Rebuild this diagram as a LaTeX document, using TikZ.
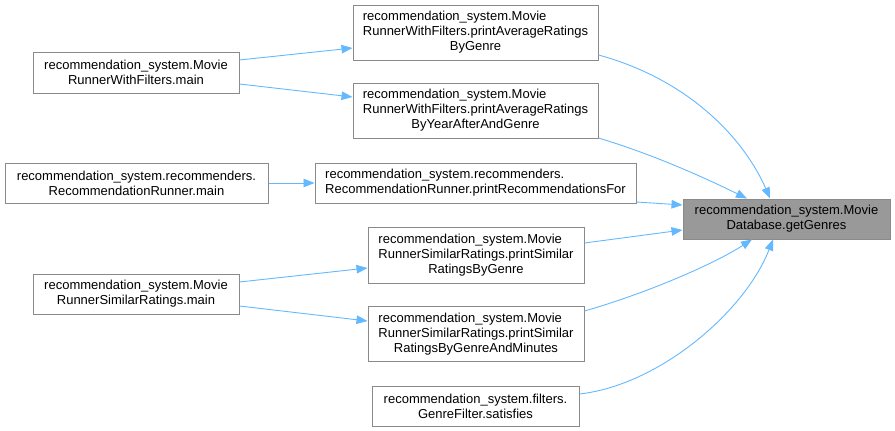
\documentclass[tikz,border=0pt]{standalone}
\usepackage{fontspec}
\setmainfont{Liberation Sans}
\usetikzlibrary{arrows.meta}
\definecolor{edgeblue}{HTML}{63B8FF}
\definecolor{boxline}{HTML}{8A8A8A}
\definecolor{rootfill}{HTML}{999999}
\tikzset{
  fn/.style={draw=boxline, line width=1pt, fill=white, inner sep=0pt, rectangle,
    font=\fontsize{13}{15}\selectfont, text=black},
  root/.style={fn, fill=rootfill},
  call/.style={draw=edgeblue, line width=0.9pt, -{Triangle[length=11pt,width=8.5pt]}}
}
\newcommand{\lblL}[3]{\begin{tabular}{@{}l@{}}#1\\#2\\\multicolumn{1}{@{}c@{}}{#3}\end{tabular}}
\newcommand{\lblLL}[2]{\begin{tabular}{@{}l@{}}#1\\#2\end{tabular}}
\begin{document}
\begin{tikzpicture}[x=1pt,y=-1pt]
\useasboundingbox (0,0) rectangle (895,431);
% nodes
\node[fn, align=center, minimum width=206pt, minimum height=41pt] (A) at (136,72.5)
  {recommendation\_system.Movie\\RunnerWithFilters.main};
\node[fn, minimum width=245pt, minimum height=55pt] (B) at (475.5,32.5)
  {\lblL{recommendation\_system.Movie}{RunnerWithFilters.printAverageRatings}{ByGenre}};
\node[fn, minimum width=245pt, minimum height=55pt] (C) at (475.5,110.5)
  {\lblL{recommendation\_system.Movie}{RunnerWithFilters.printAverageRatings}{ByYearAfterAndGenre}};
\node[fn, align=center, minimum width=263pt, minimum height=40pt] (D) at (136.5,183)
  {recommendation\_system.recommenders.\\RecommendationRunner.main};
\node[fn, minimum width=321pt, minimum height=40pt] (E) at (475.5,183)
  {\lblLL{recommendation\_system.recommenders.}{RecommendationRunner.printRecommendationsFor}};
\node[root, align=center, minimum width=207pt, minimum height=40pt] (F) at (786.5,219)
  {recommendation\_system.Movie\\Database.getGenres};
\node[fn, align=center, minimum width=206pt, minimum height=40pt] (G) at (136,294)
  {recommendation\_system.Movie\\RunnerSimilarRatings.main};
\node[fn, minimum width=216pt, minimum height=56pt] (H) at (476,255)
  {\lblL{recommendation\_system.Movie}{RunnerSimilarRatings.printSimilar}{RatingsByGenre}};
\node[fn, minimum width=216pt, minimum height=55pt] (I) at (476,334)
  {\lblL{recommendation\_system.Movie}{RunnerSimilarRatings.printSimilar}{RatingsByGenreAndMinutes}};
\node[fn, align=center, minimum width=207pt, minimum height=40pt] (J) at (475.5,406)
  {recommendation\_system.filters.\\GenreFilter.satisfies};
% edges
\draw[call] ([yshift=12.5pt]A.east) -- ([yshift=-15.5pt]B.west);
\draw[call] ([yshift=-11.5pt]A.east) -- ([yshift=13.5pt]C.west);
\draw[call] (D.east) -- (E.west);
\draw[call] ([yshift=12pt]G.east) -- ([yshift=-13pt]H.west);
\draw[call] ([yshift=-12pt]G.east) -- ([yshift=13pt]I.west);
\draw[call] ([yshift=-22.5pt]B.east) .. controls +(92,25) and +(-25,-58) .. ([xshift=-16.5pt]F.north);
\draw[call] ([yshift=-27.5pt]C.east) .. controls +(53,16) and +(-47,-23) .. ([xshift=-39.5pt]F.north);
\draw[call] ([yshift=-19pt]E.east) -- ([yshift=14pt]F.west);
\draw[call] ([yshift=12pt]H.east) -- ([yshift=-11pt]F.west);
\draw[call] ([yshift=23pt]I.east) .. controls +(56,-16) and +(-42,27) .. ([xshift=-34.5pt]F.south);
\draw[call] ([yshift=12pt]J.east) .. controls +(80,-9) and +(-28,72) .. ([xshift=-13.5pt]F.south);
\end{tikzpicture}
\end{document}
